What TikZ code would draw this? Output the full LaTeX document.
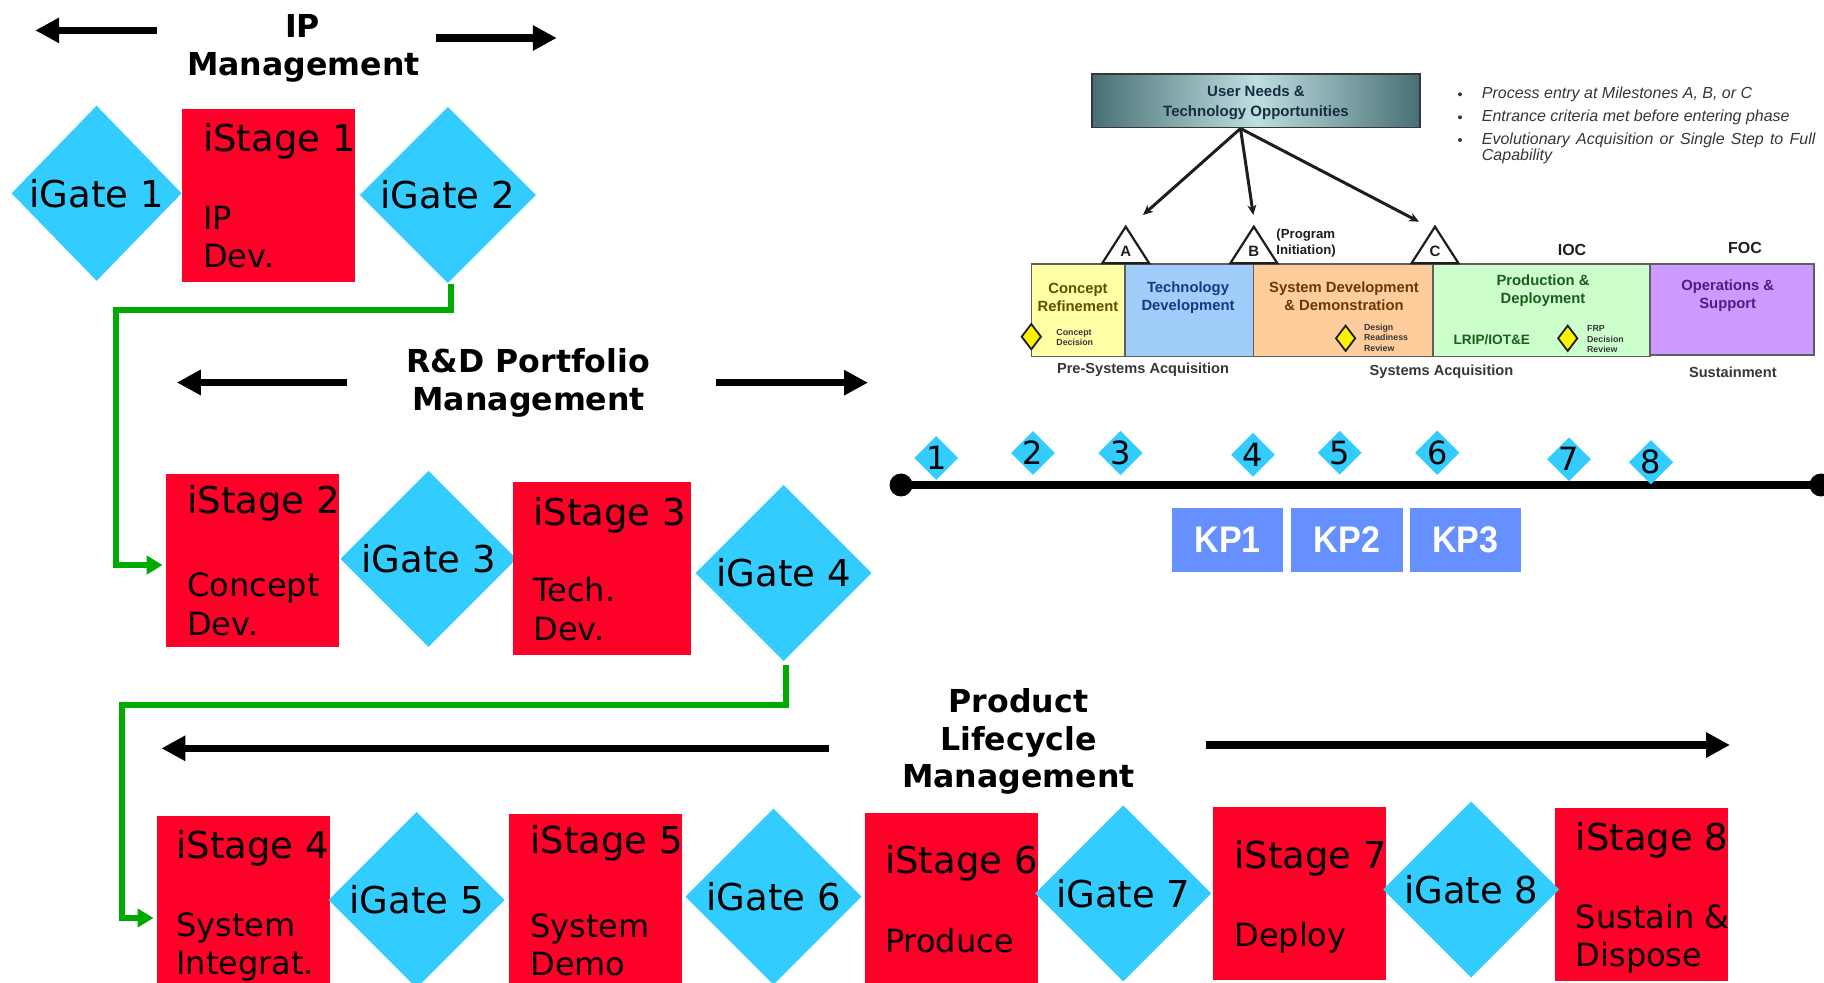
\documentclass[tikz,border=0pt]{standalone}
\usepackage{fontspec}
\setmainfont{DejaVu Sans}
\newfontfamily\arialf{Liberation Sans}
\newfontfamily\kpfont[FakeStretch=0.92]{Liberation Sans}
\usetikzlibrary{arrows.meta,shapes.geometric,calc}
\definecolor{stagered}{RGB}{255,0,41}
\definecolor{gatecyan}{RGB}{51,204,255}
\definecolor{conngreen}{RGB}{0,170,0}
\definecolor{kpblue}{RGB}{102,144,255}
\definecolor{undark}{RGB}{72,112,116}
\definecolor{unlight}{RGB}{190,222,224}
\definecolor{untext}{RGB}{25,45,65}
\definecolor{crfill}{RGB}{255,255,165}
\definecolor{tdfill}{RGB}{160,205,250}
\definecolor{sddfill}{RGB}{255,205,155}
\definecolor{pdfill}{RGB}{205,255,205}
\definecolor{osfill}{RGB}{205,155,255}
\definecolor{crtext}{RGB}{95,80,0}
\definecolor{tdtext}{RGB}{25,55,135}
\definecolor{sddtext}{RGB}{105,55,10}
\definecolor{pdtext}{RGB}{25,95,25}
\definecolor{ostext}{RGB}{85,25,135}
\definecolor{dodgrey}{RGB}{55,55,55}
\definecolor{segline}{RGB}{95,95,95}
\definecolor{darkline}{RGB}{30,30,30}
\begin{document}
\begin{tikzpicture}[x=0.5pt,y=-0.5pt,
 stagebox/.style={rectangle, fill=stagered, inner sep=0pt, outer sep=0pt, minimum width=86.5pt, minimum height=86.35pt},
 gatebox/.style={diamond, fill=gatecyan, inner sep=0pt, outer sep=0pt, minimum width=88pt, minimum height=88pt, font=\fontsize{18.5}{20}\selectfont},
 stitle/.style={anchor=base west, inner sep=0pt, font=\fontsize{18.5}{20}\selectfont},
 sdesc/.style={anchor=base west, inner sep=0pt, font=\fontsize{16}{18}\selectfont},
 hdr/.style={anchor=base, inner sep=0pt, font=\bfseries\fontsize{15.8}{19}\selectfont},
 blk/.style={line width=3.65pt, -{Triangle[length=12pt,width=12pt]}},
 gconn/.style={draw=conngreen, line width=2.85pt, -{Triangle[length=8pt,width=9pt]}},
 tdia/.style={diamond, fill=gatecyan, inner sep=0pt, minimum width=22pt, minimum height=22pt, font=\fontsize{16}{16}\selectfont},
 kpbox/.style={rectangle, fill=kpblue, inner sep=0pt, minimum width=55.7pt, minimum height=32pt, text=white, font=\kpfont\bfseries\fontsize{18.5}{19}\selectfont},
 dotnode/.style={circle, fill=black, inner sep=0pt, minimum size=11.5pt},
 dodarrow/.style={draw=darkline, line width=1.5pt, -{Stealth[length=5pt,width=4.5pt]}},
 dodlet/.style={font=\arialf\bfseries\fontsize{7.5}{8}\selectfont, inner sep=0pt, text=darkline},
 phtxt/.style={font=\arialf\bfseries\fontsize{7.4}{9}\selectfont, align=center, inner sep=0pt},
 ydia/.style={diamond, fill=yellow, draw=darkline, line width=0.9pt, minimum width=10pt, minimum height=13pt, inner sep=0pt},
 tinytxt/.style={font=\arialf\bfseries\fontsize{4.4}{5.2}\selectfont, align=left, anchor=west, inner sep=0pt, text=dodgrey},
 smalltxt/.style={font=\arialf\bfseries\fontsize{7.3}{8}\selectfont, inner sep=0pt, text=dodgrey},
 bt/.style={font=\arialf\itshape\fontsize{8}{9}\selectfont, anchor=west, inner sep=0pt, text=dodgrey},
 segbox/.style={draw=segline, line width=0.8pt}
]
\useasboundingbox (0,0) rectangle (1824,983);
\fill[white] (0,0) rectangle (1824,983);

% ---------- Row 1 : IP Management ----------
\node[gatebox, minimum width=85pt, minimum height=87.5pt] (g1) at (96.6,193.3) {iGate 1};
\node[stagebox] (s1) at (268.7,195.35) {};
\node[gatebox] (g2) at (447.8,195) {iGate 2};
\node[stitle] (s1t) at (202.8,151.7) {iStage 1};
\node[sdesc] (s1a) at (202.8,230) {IP};
\node[sdesc] (s1b) at (202.8,267.7) {Dev.};

\node[hdr] (hIP1) at (302.5,37.3) {IP};
\node[hdr] (hIP2) at (303.3,76) {Management};
\coordinate (ipLa) at (157,30.4); \coordinate (ipLb) at (35.2,30.4);
\coordinate (ipRa) at (435.5,38); \coordinate (ipRb) at (556.8,38);
\draw[blk] (ipLa) -- (ipLb);
\draw[blk] (ipRa) -- (ipRb);

% ---------- Row 2 : R&D Portfolio Management ----------
\node[stagebox] (s2) at (252.5,560.35) {};
\node[gatebox] (g3) at (428.5,558.8) {iGate 3};
\node[stagebox, minimum width=89.2pt] (s3) at (602.2,568.35) {};
\node[gatebox] (g4) at (783.7,573) {iGate 4};
\node[stitle] (s2t) at (186.9,513.3) {iStage 2};
\node[sdesc] (s2a) at (186.9,596.7) {Concept};
\node[sdesc] (s2b) at (186.9,635) {Dev.};
\node[stitle] (s3t) at (533,525) {iStage 3};
\node[sdesc] (s3a) at (533,601.7) {Tech.};
\node[sdesc] (s3b) at (533,640.7) {Dev.};

\node[hdr] (hRD1) at (528.3,372.7) {R\&D Portfolio};
\node[hdr] (hRD2) at (528.7,411) {Management};
\coordinate (rdLa) at (346.8,382.5); \coordinate (rdLb) at (176.8,382.5);
\coordinate (rdRa) at (715.5,382.7); \coordinate (rdRb) at (868,382.7);
\draw[blk] (rdLa) -- (rdLb);
\draw[blk] (rdRa) -- (rdRb);

% ---------- Row 3 : Product Lifecycle Management ----------
\node[stagebox] (s4) at (243.55,902.35) {};
\node[gatebox] (g5) at (416.6,900) {iGate 5};
\node[stagebox] (s5) at (595.7,900.35) {};
\node[gatebox] (g6) at (773.5,896.7) {iGate 6};
\node[stagebox] (s6) at (951.35,899.65) {};
\node[gatebox] (g7) at (1123.2,893.3) {iGate 7};
\node[stagebox] (s7) at (1299.35,893.15) {};
\node[stagebox] (s8) at (1641.35,894.35) {};
\node[gatebox] (g8) at (1471.2,889.5) {iGate 8};
\node[stitle] (s4t) at (176,858.3) {iStage 4};
\node[sdesc] (s4a) at (176,936.7) {System};
\node[sdesc] (s4b) at (176,974) {Integrat.};
\node[stitle] (s5t) at (530,853.3) {iStage 5};
\node[sdesc] (s5a) at (530,937.7) {System};
\node[sdesc] (s5b) at (530,975) {Demo};
\node[stitle] (s6t) at (884.8,873.3) {iStage 6};
\node[sdesc] (s6a) at (884.8,952.7) {Produce};
\node[stitle] (s7t) at (1234,868.3) {iStage 7};
\node[sdesc] (s7a) at (1234,946.7) {Deploy};
\node[stitle] (s8t) at (1575.4,850) {iStage 8};
\node[sdesc] (s8a) at (1575.4,928.3) {Sustain \&};
\node[sdesc] (s8b) at (1575.4,966) {Dispose};

\node[hdr] (hPL1) at (1018.5,712.3) {Product};
\node[hdr] (hPL2) at (1018.5,750) {Lifecycle};
\node[hdr] (hPL3) at (1018.5,787.7) {Management};
\coordinate (plLa) at (828.6,748.3); \coordinate (plLb) at (161.4,748.3);
\coordinate (plRa) at (1206.3,745); \coordinate (plRb) at (1730,745);
\draw[blk] (plLa) -- (plLb);
\draw[blk] (plRa) -- (plRb);

% ---------- Green connectors ----------
\draw[gconn] ($(g2.south)+(3.2,1)$) |- (116,309.7) |- ($(s2.west)+(-3.3,4.7)$);
\draw[gconn] ($(g4.south)+(2.3,4)$) |- (122,705.3) |- ($(s4.west)+(-3.5,15.65)$);

% ---------- Timeline ----------
\node[dotnode] (tl0) at (901,485) {};
\node[dotnode] (tl1) at (1821,485) {};
\draw[line width=3.65pt] (tl0.center) -- (tl1.center);
\node[tdia] (k1) at (936.3,458) {1};
\node[tdia] (k2) at (1033,453) {2};
\node[tdia] (k3) at (1120.5,453) {3};
\node[tdia] (k4) at (1253,454.7) {4};
\node[tdia] (k5) at (1339.7,452.8) {5};
\node[tdia] (k6) at (1437.2,452.8) {6};
\node[tdia] (k7) at (1569,459.2) {7};
\node[tdia] (k8) at (1651,462.3) {8};

\node[kpbox] (kp1) at (1227.7,539.7) {KP1};
\node[kpbox] (kp2) at (1346.9,539.7) {KP2};
\node[kpbox] (kp3) at (1465.5,539.7) {KP3};

% ---------- DoD acquisition chart ----------
\node[draw=dodgrey, line width=0.8pt, left color=undark, right color=undark, middle color=unlight, minimum width=164.1pt, minimum height=26.85pt, inner sep=0pt] (un) at (1255.9,100.85) {};
\node[font=\arialf\bfseries\fontsize{7.5}{10}\selectfont, text=untext, align=center, inner sep=0pt] (unt) at (1256,103) {User Needs \&\\Technology Opportunities};

\path[segbox, fill=crfill] (1031.3,264) rectangle (1125,356.7);
\path[segbox, fill=tdfill] (1125,264) rectangle (1253.3,356.7);
\path[segbox, fill=sddfill] (1253.3,264) rectangle (1432.8,356.7);
\path[segbox, fill=pdfill] (1432.8,264) rectangle (1649.7,356.7);
\path[segbox, fill=osfill] (1649.7,264) rectangle (1813.8,355);

\draw[fill=white, draw=darkline, line width=1.1pt] (1102.2,263.3) -- (1125.7,226.7) -- (1149.2,263.3) -- cycle;
\draw[fill=white, draw=darkline, line width=1.1pt] (1230.3,263.3) -- (1253.8,226.7) -- (1277.3,263.3) -- cycle;
\draw[fill=white, draw=darkline, line width=1.1pt] (1411.5,263.3) -- (1435,226.7) -- (1458.5,263.3) -- cycle;
\node[dodlet] (mA) at (1125.7,251) {A};
\node[dodlet] (mB) at (1253.8,251) {B};
\node[dodlet] (mC) at (1435,251) {C};

\coordinate (ufoot) at ($(un.south)+(-15.4,0)$);
\coordinate (tA) at (1143,215);
\coordinate (tB) at (1253.3,215);
\coordinate (tC) at (1419,221.7);
\draw[dodarrow] (ufoot) -- (tA);
\draw[dodarrow] (ufoot) -- (tB);
\draw[dodarrow] (ufoot) -- (tC);

\node[font=\arialf\bfseries\fontsize{6.6}{7.8}\selectfont, align=left, anchor=west, inner sep=0pt, text=darkline] (prog) at (1276,243) {(Program\\Initiation)};
\node[font=\arialf\bfseries\fontsize{8}{9}\selectfont, inner sep=0pt, text=darkline] (ioc) at (1572,250) {IOC};
\node[font=\arialf\bfseries\fontsize{8}{9}\selectfont, inner sep=0pt, text=darkline] (foc) at (1745,248) {FOC};

\node[phtxt, text=crtext] (pcr) at (1078,297) {Concept\\Refinement};
\node[phtxt, text=tdtext] (ptd) at (1188,298) {Technology\\Development};
\node[phtxt, text=sddtext] (psd) at (1344,296) {System Development\\\& Demonstration};
\node[phtxt, text=pdtext] (ppd) at (1543,291) {Production \&\\Deployment};
\node[phtxt, text=ostext] (pos) at (1727.7,296) {Operations \&\\Support};

\node[ydia] (yd1) at (1031.3,336.7) {};
\node[ydia] (yd2) at (1345.6,338.3) {};
\node[ydia] (yd3) at (1567.7,338.3) {};
\node[tinytxt] (yt1) at (1056,337.7) {Concept\\Decision};
\node[tinytxt] (yt2) at (1363.6,337.7) {Design\\Readiness\\Review};
\node[tinytxt] (yt3) at (1586.7,339.3) {FRP\\Decision\\Review};
\node[font=\arialf\bfseries\fontsize{6.8}{8}\selectfont, inner sep=0pt, text=pdtext] (lrip) at (1491.8,339.3) {LRIP/IOT\&E};

\node[smalltxt] (bl1) at (1143,370) {Pre-Systems Acquisition};
\node[smalltxt] (bl2) at (1441.5,371.7) {Systems Acquisition};
\node[smalltxt] (bl3) at (1732.8,372.7) {Sustainment};

\fill[dodgrey] (1460,94.3) circle (1pt);
\fill[dodgrey] (1460,117.3) circle (1pt);
\fill[dodgrey] (1460,140) circle (1pt);
\node[bt] (b1) at (1481.5,94.3) {Process entry at Milestones A, B, or C};
\node[bt] (b2) at (1481.5,117.3) {Entrance criteria met before entering phase};
\node[bt] (b3) at (1481.5,140) {\makebox[166.75pt][s]{Evolutionary Acquisition or Single Step to Full}};
\node[bt] (b4) at (1481.5,156.7) {Capability};
\end{tikzpicture}
\end{document}
